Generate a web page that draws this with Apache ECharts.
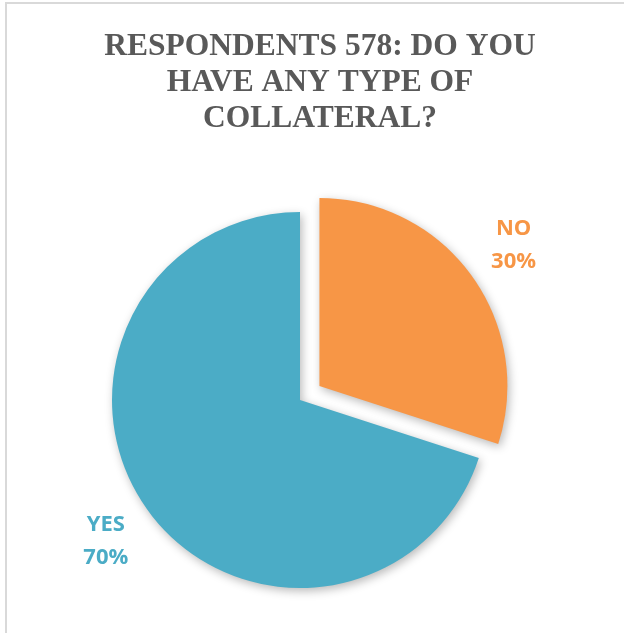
<!DOCTYPE html>
<html>
<head>
<meta charset="utf-8">
<style>
  html, body { margin: 0; padding: 0; background: #ffffff; }
  #chart { width: 624px; height: 633px; }
</style>
<script src="https://cdn.jsdelivr.net/npm/echarts@6/dist/echarts.min.js"></script>
</head>
<body>
<div id="chart"></div>
<script>
var titleText = 'RESPONDENTS 578: DO YOU\nHAVE ANY TYPE OF\nCOLLATERAL?';
var categories = ['NO', 'YES'];
var percentages = [30, 70];
var colors = ['#F79646', '#4BACC6'];

var chart = echarts.init(document.getElementById('chart'), null, { renderer: 'canvas' });

var data = categories.map(function (c, i) {
  return {
    name: c,
    value: percentages[i],
    selected: c === 'NO',
    itemStyle: { color: colors[i] },
    label: { color: colors[i] }
  };
});

chart.setOption({
  animation: false,
  backgroundColor: '#ffffff',
  graphic: [{
    type: 'rect',
    shape: { x: 6, y: 3, width: 700, height: 700 },
    style: { fill: 'none', stroke: '#d9d9d9', lineWidth: 2 },
    silent: true,
    z: 0
  }],
  title: {
    text: titleText,
    left: 315,
    textAlign: 'center',
    top: 24,
    textStyle: {
      fontFamily: '"Liberation Serif", "Times New Roman", serif',
      fontWeight: 'bold',
      fontSize: 31.5,
      lineHeight: 36,
      color: '#595959'
    }
  },
  series: [{
    type: 'pie',
    center: [300, 400],
    radius: 188,
    startAngle: 90,
    clockwise: true,
    selectedMode: 'single',
    selectedOffset: 24,
    emphasis: { disabled: true },
    itemStyle: {
      shadowBlur: 10,
      shadowColor: 'rgba(0,0,0,0.28)',
      shadowOffsetX: 2,
      shadowOffsetY: 3
    },
    label: {
      show: true,
      position: 'outside',
      formatter: '{b}\n{d}%',
      fontFamily: '"Open Sans", Lato, sans-serif',
      fontWeight: 'bold',
      fontSize: 22,
      lineHeight: 33,
      distanceToLabelLine: 0
    },
    labelLine: { show: false, length: 52, length2: 0 },
    labelLayout: function (p) {
      var r = p.labelRect;
      var ax = p.align === 'left' ? r.x : (p.align === 'right' ? r.x + r.width : r.x + r.width / 2);
      return {
        x: ax,
        y: r.y + r.height / 2,
        align: 'center',
        verticalAlign: 'middle'
      };
    },
    data: data
  }]
});
</script>
</body>
</html>
